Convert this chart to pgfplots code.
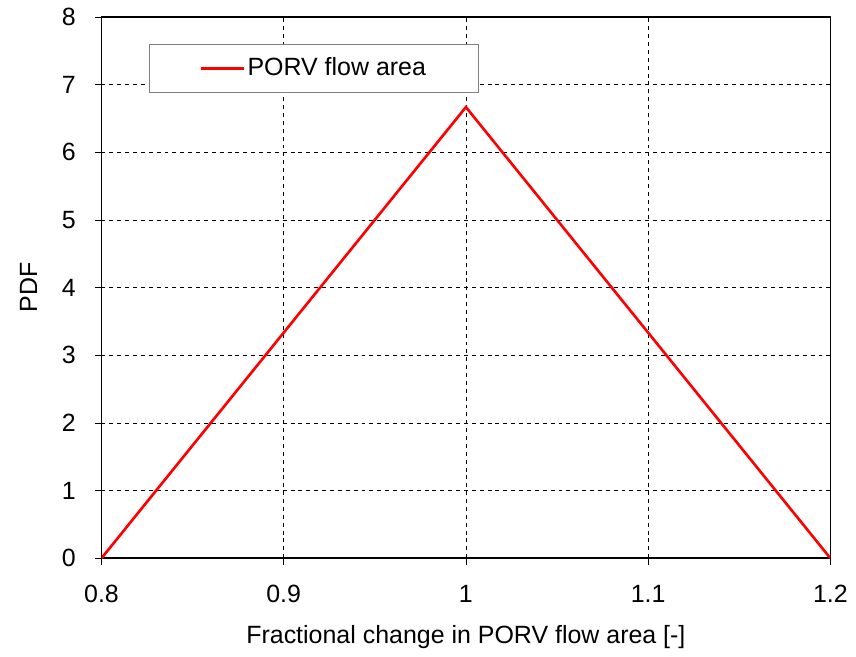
\documentclass[border=0pt]{standalone}
\usepackage{pgfplots}
\pgfplotsset{compat=1.18}
\usepackage{fontspec}
\setmainfont{Liberation Sans}
\begin{document}
\fontsize{19pt}{22pt}\selectfont
\begin{tikzpicture}
\begin{axis}[
  scale only axis,
  width=555pt, height=412pt,
  xmin=0.8, xmax=1.2, ymin=0, ymax=8,
  xtick={0.8,0.9,1,1.1,1.2},
  xticklabels={0.8,0.9,1,1.1,1.2},
  ytick={0,1,...,8},
  /pgf/number format/assume math mode=true,
  tick align=outside,
  tick pos=left,
  major tick length=5pt,
  tick style={black, line width=0.6pt},
  axis line style={black, line width=1.2pt},
  grid=major,
  major grid style={black, dashed, line width=0.5pt},
  xlabel={Fractional change in PORV flow area [-]},
  ylabel={\rule{0pt}{22pt}PDF},
  xlabel style={yshift=-4pt},
  ylabel style={yshift=6pt},
  xticklabel style={yshift=-9pt},
  yticklabel style={xshift=-8pt},
  ticklabel style={font=\fontsize{19pt}{22pt}\selectfont},
  label style={font=\fontsize{19pt}{22pt}\selectfont},
  legend style={at={(0.065,0.95)}, anchor=north west, draw=gray, line width=0.8pt,
    fill=white, font=\fontsize{19pt}{22pt}\selectfont,
    inner xsep=38pt, inner ysep=8pt},
  legend cell align=left,
  legend image code/.code={\draw[#1, line width=2pt] (0cm,0cm) -- (1.15cm,0cm);},
]
\addplot[red, line width=2pt] coordinates {(0.8,0) (1.0,6.67) (1.2,0)};
\addlegendentry{PORV flow area}
\end{axis}
\end{tikzpicture}
\end{document}
